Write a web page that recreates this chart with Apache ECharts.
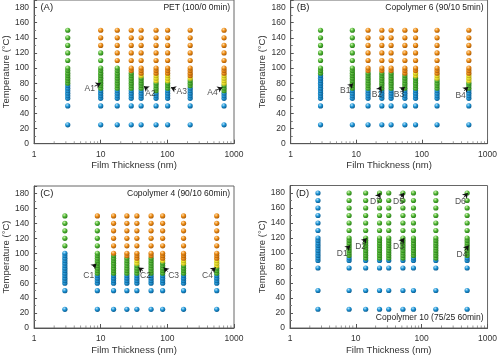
<!DOCTYPE html>
<html><head><meta charset="utf-8">
<script src="https://cdn.jsdelivr.net/npm/echarts@6/dist/echarts.min.js"></script>
<style>html,body{margin:0;padding:0;background:#fff}#c{width:500px;height:356px}</style>
</head><body><div id="c"></div>
<script>
// Temperatures measured (°C)
const tempsABC = [25, 50, 60, 63.3, 66.7, 70, 73.3, 76.7, 80, 83.3, 86.7, 90, 93.3, 96.7, 100, 110, 120, 130, 140, 150];
const tempsD = [25, 50, 80, 90, 93.3, 96.7, 100, 103.3, 106.7, 110, 113.3, 116.7, 120, 130, 140, 150, 160, 170, 180];

// Film thickness (nm) of each column
const thicknessA = [3.2, 10, 17.7, 28.7, 40.4, 67.7, 101, 220, 709];
const thicknessB = [2.85, 8.7, 15.1, 24.5, 33.9, 55, 80, 170, 519];
const thicknessC = [2.9, 8.9, 15.6, 24.7, 34.9, 57, 85, 175, 551];
const thicknessD = [2.66, 7.9, 14.1, 22.9, 31.6, 51.9, 75, 164, 490];

// State per temperature (B = blue, G = green, Y = yellow, O = orange)
const statesA = [
  "BBBBBBBBGGGGGGGGGGGG",
  "BBBBBBGGGGGGGGGGGOOO",
  "BBBBBBGGGGGGGGGOOOOO",
  "BBBBBBGGGGGGGOOOOOOO",
  "BBBBBBGGGGGYOOOOOOOO",
  "BBBBBGGGGYYYOOOOOOOO",
  "BBBBBBGGGYYYOOOOOOOO",
  "BBBBBBBGGGYOOOOOOOOO",
  "BBBBBGGGYYYYOOOOOOOO"
];
const statesB = [
  "BBBBBBBBBBBBGGGGGGGG",
  "BBBBBBGGGGGGGGGGGGGG",
  "BBBBBBGGGGGGGOOOOOOO",
  "BBBBBBGGGGGGGOOOOOOO",
  "BBBBBBGGGGGGGOOOOOOO",
  "BBBBBBGGGGGGOOOOOOOO",
  "BBBBBBGGGGGYYOOOOOOO",
  "BBBBBBGGGGYYOOOOOOOO",
  "BBBBBBGGGYYYOOOOOOOO"
];
const statesC = [
  "BBBBBBBBBBBBBBBGGGGG",
  "BBBBBBGGGGGGGGGGGGGO",
  "BBBBBBGGGGGGGGOOOOOO",
  "BBBBBBGGGGGGGOOOOOOO",
  "BBBBBBGGGGYYOOOOOOOO",
  "BBBBBBGGGGGGGOOOOOOO",
  "BBBBBBGGGGGYOOOOOOOO",
  "BBBBBBGGGGYYOOOOOOOO",
  "BBBBBBGGGYYYOOOOOOOO"
];
const statesD = [
  "BBBBBBBBBBBBBBBBBBB",
  "BBBBBGGGGGGGGGGGGGG",
  "BBBBGGGGGGGGGGGGGGG",
  "BBBBGGGGGGGGGGGGGGG",
  "BBBBGGGGGGGGGGGGGGG",
  "BBBBGGGGGGGGGGGGGGG",
  "BBBBBGGGGGGGGGGGGGG",
  "BBBBGGGGGGGGGGGGGGG",
  "BBBBBGGGGGGGGGGGGGG"
];

// Annotations: [label, textX, textY, arrowFromX, arrowFromY, arrowToX, arrowToY]
const notesA = [["A1",6.85,73,8.1,76,10,80],["A2",55.7,66.5,50.9,72,44.4,76],["A3",164,68.7,134.7,71.7,113,74.4],["A4",475,67,551,71,670,74.4]];
const notesB = [["B1",6.76,70,7.76,74.4,8.9,79.7],["B2",20.6,65,22.6,71.7,24,76],["B3",44.7,65,47.9,70.9,55,75],["B4",389,64,437,70,507,75]];
const notesC = [["C1",6.6,69.8,7.7,81.8,8.6,86],["C2",47,70,42.8,76.4,36.9,80.9],["C3",124,70,101,75.5,88,81],["C4",400,70,458,76,532,81]];
const notesD = [["D1",6.2,99,7.15,105,8.2,110],["D2",11.8,108,12.7,114,14.6,119.6],["D3",44.5,108,48.2,114,54.2,119.6],["D4",410,98,450,103.5,517,110],["D5",44.5,168,48,174,54,180],["D6",387,168,435,174,500,180],["D7",19.8,168,21.5,174,23.5,180]];

const panelTitles = ["(A)", "(B)", "(C)", "(D)"];
const panelNames = ["PET (100/0 0min)", "Copolymer 6 (90/10 5min)", "Copolymer 4 (90/10 60min)", "Copolymer 10 (75/25 60min)"];
const yTicks = [0, 20, 40, 60, 80, 100, 120, 140, 160, 180];
const xMinorTicks = [2, 3, 4, 5, 6, 7, 8, 9, 20, 30, 40, 50, 60, 70, 80, 90, 200, 300, 400, 500, 600, 700, 800, 900];

function grad(c0, c1, c2) {
  return {type: 'radial', x: 0.38, y: 0.32, r: 0.7,
    colorStops: [{offset: 0, color: c0}, {offset: 0.5, color: c1}, {offset: 1, color: c2}]};
}
const stateColors = {
  B: grad('#b5e3fb', '#1c93d4', '#0a5a8e'),
  G: grad('#d4f5b5', '#4fb534', '#2a7a18'),
  Y: grad('#ffffc8', '#eee52a', '#a9a010'),
  O: grad('#ffdcaa', '#ec8b13', '#a65805')
};
const stateOrder = ['B', 'G', 'Y', 'O'];

const grids = [
  {left: 32, right: 266, top: 0, bottom: 212.3},
  {left: 290.7, right: 9.3, top: 0, bottom: 212.3},
  {left: 32, right: 266, top: 186, bottom: 27.3},
  {left: 290, right: 11, top: 185.5, bottom: 28}
];

const panels = [
  {th: thicknessA, st: statesA, t: tempsABC, notes: notesA},
  {th: thicknessB, st: statesB, t: tempsABC, notes: notesB},
  {th: thicknessC, st: statesC, t: tempsABC, notes: notesC},
  {th: thicknessD, st: statesD, t: tempsD, notes: notesD}
];

const font = 'Liberation Sans, Arial, sans-serif';
const option = {
  animation: false,
  grid: grids.map(g => Object.assign({show: true, borderColor: '#666', borderWidth: 1, backgroundColor: 'transparent'}, g)),
  xAxis: grids.map((g, i) => ({
    type: 'log', logBase: 10, min: 1, max: 1000, gridIndex: i,
    name: 'Film Thickness (nm)', nameLocation: 'middle', nameGap: 17,
    nameTextStyle: {fontSize: 9.5, color: '#333', fontFamily: font},
    axisLine: {show: true, lineStyle: {color: '#555', width: 1}},
    axisTick: {show: true, inside: true, length: 4, lineStyle: {color: '#555'}},
    axisLabel: {fontSize: 8.5, color: '#333', margin: 6, fontFamily: font, formatter: v => String(Math.round(v))},
    splitLine: {show: false}
  })),
  yAxis: grids.map((g, i) => ({
    type: 'value', min: 0, max: 190, interval: 20, gridIndex: i,
    name: 'Temperature (°C)', nameLocation: 'middle', nameGap: 22,
    nameTextStyle: {fontSize: 9.5, color: '#333', fontFamily: font},
    axisLine: {show: true, lineStyle: {color: '#555', width: 1}},
    axisTick: {show: true, inside: true, length: 3, lineStyle: {color: '#555'}},
    minorTick: {show: true, splitNumber: 2, length: 2, lineStyle: {color: '#777'}},
    axisLabel: {fontSize: 8.5, color: '#333', margin: 5, fontFamily: font, showMaxLabel: false,
      formatter: v => yTicks.indexOf(v) >= 0 ? String(v) : ''},
    splitLine: {show: false}
  })),
  series: []
};

panels.forEach((p, i) => {
  // log minor ticks on the x axis
  option.series.push({
    type: 'scatter', xAxisIndex: i, yAxisIndex: i, silent: true, z: 1,
    symbol: 'rect', symbolSize: [0.8, 2.5], symbolOffset: [0, -1.25],
    itemStyle: {color: '#666'}, data: xMinorTicks.map(v => [v, 0])
  });
  stateOrder.forEach(s => {
    const data = [];
    p.th.forEach((x, c) => {
      p.t.forEach((temp, k) => { if (p.st[c][k] === s) data.push([x, temp]); });
    });
    option.series.push({
      type: 'scatter', xAxisIndex: i, yAxisIndex: i, symbol: 'circle', symbolSize: 5.2,
      itemStyle: {color: stateColors[s], opacity: 1}, data: data, z: 2
    });
  });
  // annotation arrows and labels
  option.series.push({
    type: 'scatter', xAxisIndex: i, yAxisIndex: i, symbolSize: 1, z: 5,
    itemStyle: {color: 'rgba(0,0,0,0)'},
    label: {show: true, position: 'inside', formatter: '{b}', fontSize: 8.5, color: '#222', fontFamily: font},
    data: p.notes.map(n => ({name: n[0], value: [n[1], n[2]]})),
    markLine: {
      silent: true, symbol: ['none', 'arrow'], symbolSize: 5, animation: false,
      lineStyle: {color: '#111', width: 0.9, type: 'solid'}, label: {show: false},
      data: p.notes.map(n => [{coord: [n[3], n[4]]}, {coord: [n[5], n[6]]}])
    }
  });
});

const chart = echarts.init(document.getElementById('c'), null, {renderer: 'canvas'});
chart.setOption(option);

// panel titles (placed from the axes' own coordinate systems)
const titlePos = [
  {lab: [1.55, 180], name: [1000, 180]},
  {lab: [1.55, 180], name: [1000, 180]},
  {lab: [1.55, 180], name: [1000, 180]},
  {lab: [1.55, 180], name: [1000, 14]}
];
const graphics = [];
titlePos.forEach((tp, i) => {
  const a = chart.convertToPixel({gridIndex: i}, tp.lab);
  const b = chart.convertToPixel({gridIndex: i}, tp.name);
  graphics.push({type: 'text', x: a[0], y: a[1], style: {text: panelTitles[i], fontSize: 9.5, fill: '#222', font: '9.5px ' + font, textAlign: 'center', textVerticalAlign: 'middle'}});
  graphics.push({type: 'text', x: b[0] - 4, y: b[1], style: {text: panelNames[i], fontSize: 8.5, fill: '#222', font: '8.5px ' + font, textAlign: 'right', textVerticalAlign: 'middle'}});
});
chart.setOption({graphic: graphics});
</script></body></html>
